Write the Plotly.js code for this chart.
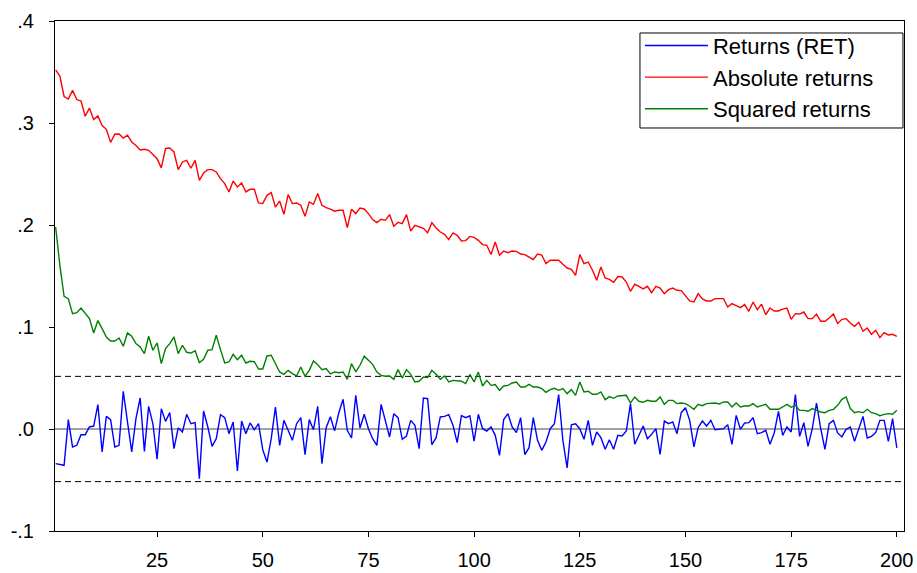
<!DOCTYPE html>
<html>
<head>
<meta charset="utf-8">
<script src="https://cdn.plot.ly/plotly-3.0.1.min.js"></script>
<style>html,body{margin:0;padding:0;background:#fff;}#chart{width:917px;height:573px;}</style>
</head>
<body>
<div id="chart"></div>
<script>
// Autocorrelations, lags 1..200
const ret = [
-0.034,-0.035,-0.0356,0.0092,-0.0176,-0.016,-0.0056,-0.0056,0.002,0.0029,
0.0239,-0.0225,0.0124,0.0092,-0.0176,-0.016,0.0369,0.0069,-0.0225,0.0101,
0.0304,-0.0219,0.0222,0.0052,-0.0297,0.0199,0.0075,0.016,-0.0193,0.001,
-0.0029,0.0144,0.0052,0.0062,-0.0487,0.0176,0.002,-0.017,-0.0095,0.0141,
0.0111,-0.0046,0.0069,-0.0412,0.0078,-0.0046,0.0059,-0.0007,0.0052,-0.0203,
-0.0324,-0.0095,0.0216,-0.016,0.0085,-0.0013,-0.0111,0.0052,0.0111,-0.0252,
0.0092,-0.0007,0.0222,-0.034,0.0013,0.012,-0.0018,0.016,0.0291,-0.0013,
-0.0088,0.033,0.001,0.0144,0.0003,-0.0095,-0.016,0.0242,0.0092,-0.0078,
0.015,0.0111,-0.0101,-0.0069,0.0085,0.0036,-0.0193,0.0304,0.0297,-0.0154,
-0.0088,0.0118,0.0124,0.0141,0.0036,-0.0134,0.0131,0.0111,0.013,-0.012,
0.0144,0.0003,-0.002,0.002,-0.0062,-0.0258,0.0092,0.015,0.002,-0.0036,
0.0111,-0.0252,-0.0183,0.0111,-0.0111,-0.0209,-0.0127,0.0003,0.0052,0.0337,
-0.0111,-0.0382,0.0042,0.0052,0.0003,-0.0101,0.0085,-0.016,-0.0029,-0.0085,
-0.0199,-0.0105,-0.0199,-0.0062,-0.0069,-0.002,0.0248,-0.015,-0.0062,0.0029,
-0.0095,-0.0052,0.0003,-0.0248,0.0078,0.0052,0.0069,-0.0046,0.016,0.0209,
0.0085,-0.0176,0.0013,0.0078,0.0029,0.0085,-0.0007,0,0.0003,0.0042,
-0.015,0.0134,-0.0003,0.0059,0.0062,0.0111,-0.0046,-0.0036,-0.0013,-0.015,
-0.0039,0.0173,-0.0062,0.002,-0.0029,0.0337,-0.0072,0.0062,-0.017,0.0003,
0.0255,0.0003,-0.0199,0.0052,0.0085,-0.0039,-0.0078,-0.0003,0.002,-0.0121,
0.0003,0.0124,-0.0088,-0.0072,-0.0036,0.0085,0.0085,-0.0121,0.0101,-0.0185
];
const absRet = [
0.352,0.346,0.326,0.3235,0.332,0.323,0.3216,0.3066,0.3147,0.3033,
0.307,0.2974,0.2938,0.281,0.289,0.2892,0.2853,0.288,0.2814,0.278,
0.2735,0.2742,0.2732,0.269,0.265,0.256,0.275,0.2755,0.2716,0.2543,
0.2618,0.2634,0.2556,0.2634,0.2438,0.251,0.2543,0.2543,0.252,0.2455,
0.2406,0.2324,0.2431,0.2373,0.2412,0.2324,0.235,0.235,0.2216,0.221,
0.2291,0.2318,0.2176,0.2235,0.2105,0.2298,0.221,0.2216,0.2193,0.2085,
0.2226,0.2203,0.2308,0.2193,0.217,0.2156,0.2135,0.2144,0.2144,0.1974,
0.2154,0.2112,0.2167,0.2157,0.2112,0.2053,0.2023,0.2056,0.2046,0.2102,
0.1987,0.2026,0.2013,0.2102,0.1941,0.1997,0.198,0.1968,0.1925,0.2023,
0.1971,0.1931,0.1909,0.1857,0.1922,0.1899,0.1843,0.1847,0.1888,0.1878,
0.185,0.1808,0.1801,0.171,0.1834,0.1703,0.1745,0.1729,0.1745,0.1742,
0.1716,0.171,0.1686,0.1661,0.1716,0.1706,0.1621,0.1654,0.1654,0.1654,
0.1615,0.1578,0.1566,0.1507,0.171,0.1621,0.1637,0.1556,0.1458,0.1588,
0.148,0.1467,0.1438,0.1495,0.149,0.1441,0.135,0.1419,0.1399,0.1373,
0.1399,0.1337,0.1399,0.1382,0.1327,0.1366,0.1382,0.136,0.1357,0.1311,
0.1255,0.1245,0.1327,0.1275,0.1255,0.1255,0.1278,0.1278,0.1278,0.1196,
0.1229,0.121,0.119,0.122,0.1154,0.1245,0.117,0.1224,0.1121,0.1186,
0.1157,0.1157,0.1176,0.1186,0.1075,0.1131,0.1127,0.1147,0.1082,0.1082,
0.1127,0.1056,0.1056,0.1088,0.1127,0.1033,0.1075,0.1082,0.1039,0.1007,
0.1046,0.0958,0.099,0.0928,0.0968,0.0896,0.0945,0.0922,0.0928,0.0909
];
const sqRet = [
0.198,0.1605,0.1301,0.1278,0.1131,0.1141,0.1186,0.1131,0.1082,0.0941,
0.1063,0.0984,0.0902,0.0863,0.0863,0.0892,0.0811,0.0941,0.0909,0.0837,
0.0804,0.0739,0.0909,0.0772,0.0843,0.0641,0.0788,0.0837,0.0902,0.0739,
0.0821,0.0752,0.0745,0.0767,0.0652,0.0683,0.0772,0.0778,0.0919,0.0778,
0.0647,0.0657,0.0732,0.068,0.0723,0.0647,0.0664,0.066,0.0588,0.0588,
0.0716,0.0723,0.0647,0.0559,0.0536,0.0575,0.0543,0.052,0.0608,0.0517,
0.0575,0.0667,0.0631,0.0582,0.0592,0.054,0.0559,0.0551,0.0559,0.0487,
0.0641,0.0559,0.0625,0.0713,0.0674,0.0634,0.0559,0.0526,0.0517,0.052,
0.0487,0.0582,0.05,0.0582,0.0536,0.0461,0.0468,0.051,0.0504,0.0575,
0.0536,0.0487,0.052,0.0461,0.0477,0.0471,0.0468,0.0445,0.0535,0.0461,
0.0558,0.0422,0.0477,0.0428,0.0435,0.0379,0.0422,0.0428,0.0451,0.0461,
0.0412,0.0412,0.0438,0.0412,0.0412,0.0396,0.036,0.0386,0.0399,0.0379,
0.0396,0.0347,0.0386,0.033,0.0461,0.0363,0.037,0.034,0.034,0.0363,
0.0288,0.0318,0.0301,0.0324,0.0327,0.033,0.0255,0.0314,0.0272,0.0262,
0.0281,0.0272,0.0272,0.0314,0.0242,0.0281,0.0281,0.0249,0.0255,0.0249,
0.0223,0.0193,0.0242,0.0229,0.0249,0.0255,0.0255,0.0245,0.0265,0.0265,
0.0216,0.0255,0.0216,0.0225,0.0225,0.0248,0.0216,0.0229,0.0242,0.0193,
0.0193,0.0193,0.0216,0.0242,0.0213,0.0232,0.0183,0.0183,0.0174,0.02,
0.0183,0.0167,0.016,0.0183,0.0193,0.0232,0.0291,0.0314,0.02,0.016,
0.017,0.016,0.0193,0.016,0.0151,0.0131,0.0144,0.0151,0.0144,0.0183
];
const lags = ret.map((_, i) => i + 1);
const seriesNames = ["Returns (RET)", "Absolute returns", "Squared returns"];
const xTickVals = [25, 50, 75, 100, 125, 150, 175, 200];
const yTickVals = [-0.1, 0, 0.1, 0.2, 0.3, 0.4];
const yTickText = ["-.1", ".0", ".1", ".2", ".3", ".4"];
const bandLimit = 0.0516;

const font = "Liberation Sans, Arial, Helvetica, sans-serif";
const colors = ["#0000FF", "#FF0000", "#008000"];
const data = [ret, absRet, sqRet].map((vals, i) => ({
  x: lags, y: vals, type: "scatter", mode: "lines",
  name: seriesNames[i],
  line: {color: colors[i], width: 1.4}
}));

const layout = {
  width: 917, height: 573,
  margin: {l: 55, r: 13, t: 21, b: 42},
  paper_bgcolor: "#fff", plot_bgcolor: "#fff",
  font: {family: font, size: 20, color: "#000"},
  showlegend: true,
  legend: {
    x: 0.689, y: 0.9927, xanchor: "left", yanchor: "top",
    bgcolor: "rgba(0,0,0,0)", borderwidth: 0,
    font: {family: font, size: 22, color: "#000"},
    itemwidth: 63
  },
  xaxis: {
    range: [0.85, 201.7], tickvals: xTickVals,
    showline: true, mirror: true, linecolor: "#000", linewidth: 1,
    ticks: "outside", ticklen: 5, tickcolor: "#000",
    showgrid: false, zeroline: false, ticklabelstandoff: 6,
    tickfont: {family: font, size: 20}
  },
  yaxis: {
    range: [-0.1, 0.4], tickvals: yTickVals, ticktext: yTickText,
    showline: true, mirror: true, linecolor: "#000", linewidth: 1,
    ticks: "outside", ticklen: 5, tickcolor: "#000",
    showgrid: false, zeroline: false, ticklabelstandoff: 11,
    tickfont: {family: font, size: 20}
  },
  shapes: [
    {type: "line", xref: "paper", x0: 0, x1: 1, yref: "y", y0: 0, y1: 0,
     line: {color: "#444", width: 1}, layer: "below"},
    {type: "line", xref: "paper", x0: 0, x1: 1, yref: "y", y0: bandLimit, y1: bandLimit,
     line: {color: "#000", width: 1, dash: "6px,4px"}, layer: "below"},
    {type: "line", xref: "paper", x0: 0, x1: 1, yref: "y", y0: -bandLimit, y1: -bandLimit,
     line: {color: "#000", width: 1, dash: "6px,4px"}, layer: "below"},
    // legend frame
    {type: "rect", xref: "paper", yref: "paper", x0: 0.689, x1: 0.9988, y0: 0.7902, y1: 0.9765,
     fillcolor: "#fff", line: {color: "#000", width: 1}, layer: "above"}
  ]
};

Plotly.newPlot("chart", data, layout, {displayModeBar: false, staticPlot: true});
</script>
</body>
</html>
